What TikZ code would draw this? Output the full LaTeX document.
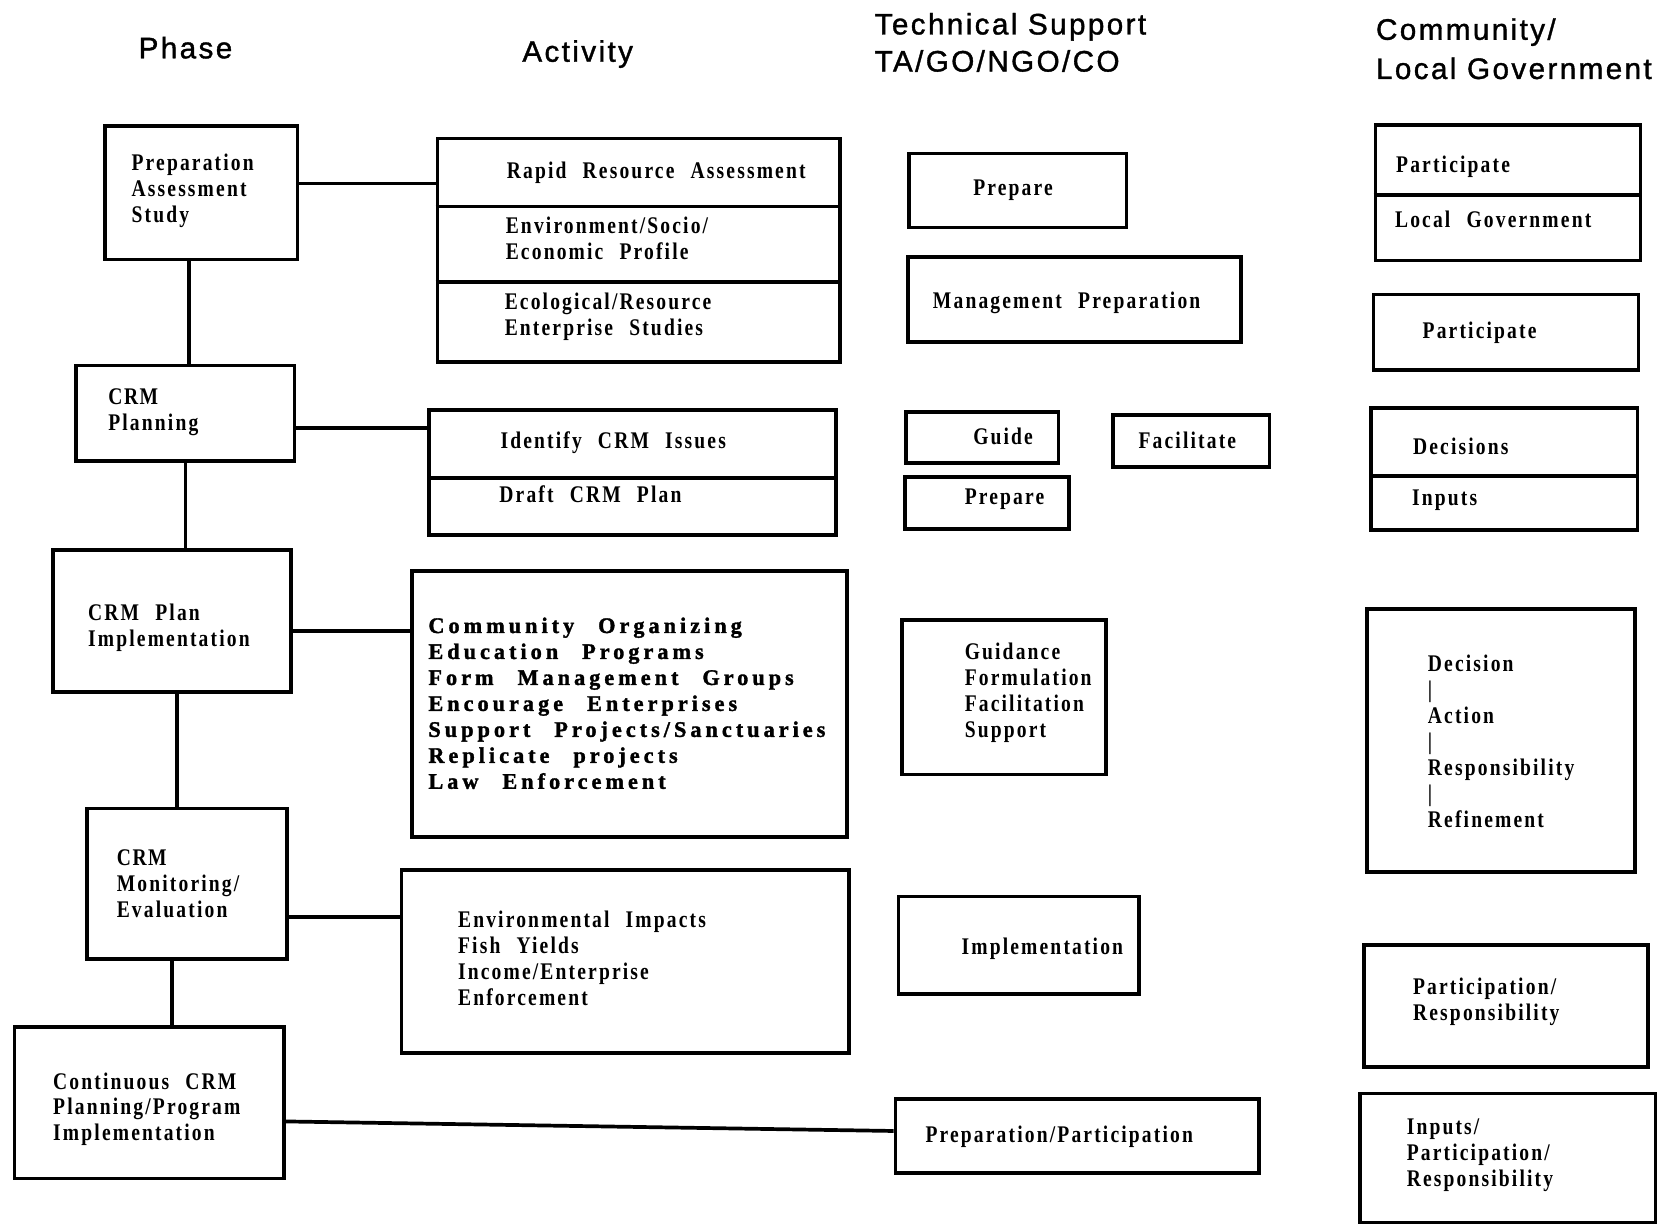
\documentclass[tikz,border=0pt]{standalone}
\usepackage{fontspec}
\setmainfont{Liberation Serif}
\newfontfamily\hdrfont[LetterSpace=8,FakeBold=1.2]{Liberation Sans}
\newfontfamily\txtfont[LetterSpace=9,WordSpace=2.3,FakeStretch=0.82]{Liberation Serif}
\newfontfamily\heavyfont[LetterSpace=18,WordSpace=2.5,FakeBold=1.5]{Liberation Serif}
\newcommand\boxat[5]{\node[box, minimum width={#4pt-#2pt}, minimum height={#5pt-#3pt}] (#1) at (#2,#3) {};}
\newcommand\crm{C\kern1.5pt R\kern1.5pt M}
\tikzset{
  box/.style={draw, line width=3.5pt, inner sep=0pt, anchor=north west},
  div/.style={line width=3pt},
  conn/.style={line width=3.5pt},
  hdr/.style={font=\hdrfont\fontsize{28}{35}\selectfont, inner sep=0pt, align=left},
  txt/.style={font=\txtfont\bfseries\fontsize{22.5}{24.5}\selectfont, inner sep=0pt, align=left, anchor=west},
  heavy/.style={font=\heavyfont\bfseries\fontsize{21}{24.5}\selectfont, inner sep=0pt, align=left, anchor=west}
}
\begin{document}
\begin{tikzpicture}[x=1pt,y=-1pt]
\useasboundingbox[fill=white] (0,0) rectangle (1568,1154);
% headers
\node[hdr] (hphase) at (175,45) {Phase};
\node[hdr] (hact) at (545,51) {Activity};
\node[hdr, anchor=west] (hts) at (825,40) {Technical Support\\TA/GO/NGO/CO};
\node[hdr, anchor=west, font=\hdrfont\fontsize{28}{37}\selectfont] (hcom) at (1298,46) {Community/\\Local Government};
% phase boxes
\boxat{p1}{97}{117}{279}{243}
\boxat{p2}{70}{343}{276}{433}
\boxat{p3}{48}{517}{273}{651}
\boxat{p4}{80}{761}{269}{903}
\boxat{p5}{12}{967}{266}{1110}
\node[txt] (p1t) at (124,180) {Preparation\\Assessment\\Study};
\node[txt] (p2t) at (102,388.5) {\crm\\Planning};
\node[txt] (p3t) at (83,592.5) {CRM Plan\\Implementation};
\node[txt] (p4t) at (110,834) {\crm\\Monitoring/\\Evaluation};
\node[txt] (p5t) at (50,1046.5) {Continuous CRM\\Planning/Program\\Implementation};
% activity boxes
\boxat{a1}{411}{129}{791}{340}
\boxat{a2}{403}{385}{787}{503}
\boxat{a3}{387}{537}{797}{788}
\boxat{a4}{377}{819}{799}{992}
\draw[div] (a1.west |- 0,195) -- (a1.east |- 0,195);
\draw[div] (a1.west |- 0,266) -- (a1.east |- 0,266);
\draw[div] (a2.west |- 0,451) -- (a2.east |- 0,451);
\node[txt] (a1t1) at (478,163) {Rapid Resource Assessment};
\node[txt] (a1t2) at (477,224.5) {Environment/Socio/\\Economic Profile};
\node[txt] (a1t3) at (476,299) {Ecological/Resource\\Enterprise Studies};
\node[txt] (a2t1) at (472,418) {Identify CRM Issues};
\node[txt] (a2t2) at (471,466) {Draft CRM Plan};
\node[heavy] (a3t) at (404,663.5) {Community Organizing\\Education Programs\\Form Management Groups\\Encourage Enterprises\\Support Projects/Sanctuaries\\Replicate projects\\Law Enforcement};
\node[txt] (a4t) at (432,904) {Environmental Impacts\\Fish Yields\\Income/Enterprise\\Enforcement};
% technical support boxes
\boxat{t1}{856}{143}{1061}{213}
\boxat{t2}{855}{241}{1169}{321}
\boxat{t3}{853}{387}{997}{435}
\boxat{t4}{1048}{390}{1196}{439}
\boxat{t5}{852}{448}{1007}{497}
\boxat{t6}{849}{583}{1042}{729}
\boxat{t7}{846}{844}{1073}{936}
\boxat{t8}{843}{1035}{1186}{1105}
\node[txt] (t1t) at (918,179) {Prepare};
\node[txt] (t2t) at (880,286) {Management Preparation};
\node[txt] (t3t) at (918,412) {Guide};
\node[txt] (t4t) at (1074,415) {Facilitate};
\node[txt] (t5t) at (910,471) {Prepare};
\node[txt] (t6t) at (910,653.5) {Guidance\\Formulation\\Facilitation\\Support};
\node[txt] (t7t) at (907,895) {Implementation};
\node[txt] (t8t) at (873,1072) {Preparation/Participation};
% community boxes
\boxat{c1}{1296}{116}{1546}{244}
\boxat{c2}{1294}{276}{1544}{347}
\boxat{c3}{1292}{383}{1543}{498}
\boxat{c4}{1288}{573}{1541}{821}
\boxat{c5}{1285}{890}{1553}{1005}
\boxat{c6}{1281}{1030}{1560}{1152}
\draw[div] (c1.west |- 0,184) -- (c1.east |- 0,184);
\draw[div] (c3.west |- 0,449) -- (c3.east |- 0,449);
\node[txt] (c1t1) at (1317,157) {Participate};
\node[txt] (c1t2) at (1316,207) {Local Government};
\node[txt] (c2t) at (1342,314) {Participate};
\node[txt] (c3t1) at (1333,421) {Decisions};
\node[txt] (c3t2) at (1332,472) {Inputs};
\node[txt] (c4t) at (1347,699.5) {Decision\\|\\Action\\|\\Responsibility\\|\\Refinement};
\node[txt] (c5t) at (1333,945) {Participation/\\Responsibility};
\node[txt] (c6t) at (1327,1090) {Inputs/\\Participation/\\Responsibility};
% connectors
\draw[conn] (p1.east |- 0,173) -- (a1.west |- 0,173);
\draw[conn] (p2.east |- 0,404) -- (a2.west |- 0,404);
\draw[conn] (p3.east |- 0,595) -- (a3.west |- 0,595);
\draw[conn] (p4.east |- 0,865) -- (a4.west |- 0,865);
\draw[conn] (p5.east |- 0,1058) -- (t8.west |- 0,1067);
\draw[conn] (p1.south -| 178,0) -- (p2.north -| 178,0);
\draw[conn] (p2.south -| 175,0) -- (p3.north -| 175,0);
\draw[conn] (p3.south -| 167,0) -- (p4.north -| 167,0);
\draw[conn] (p4.south -| 162,0) -- (p5.north -| 162,0);
\end{tikzpicture}
\end{document}
